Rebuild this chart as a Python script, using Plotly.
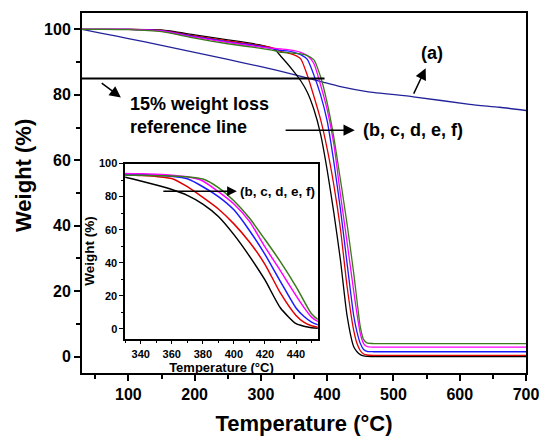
import plotly.graph_objects as go

# Temperature grid (°C) shared by the composite samples b-f
temperature = [30, 60, 100, 150, 200, 250, 300, 320, 330, 340, 350, 360, 370, 380,
               390, 400, 410, 420, 430, 440, 445, 450, 455, 460, 470, 500, 600, 700]

weight_b = [100, 100, 100, 99.8, 98.3, 96.8, 95.2, 94.0, 91.8, 89.5, 87.0, 84.3, 80.8, 75.5,
            68.0, 57.0, 44.0, 29.5, 12.5, 3.0, 1.5, 0.6, 0.2, 0.05, 0, 0, 0, 0]
weight_c = [100, 100, 100, 99.7, 98.0, 96.5, 95.0, 94.2, 93.3, 92.8, 92.2, 91.0, 86.0, 79.5,
            72.5, 63.5, 52.5, 39.0, 21.5, 8.0, 4.0, 1.8, 0.8, 0.5, 0.4, 0.4, 0.4, 0.4]
weight_d = [100, 100, 100, 99.6, 97.8, 96.2, 94.8, 94.0, 93.6, 93.4, 93.0, 92.3, 90.8, 86.0,
            80.0, 72.0, 59.5, 45.0, 28.5, 12.5, 7.5, 4.0, 2.2, 1.6, 1.5, 1.5, 1.5, 1.5]
weight_e = [100, 100, 100, 99.5, 97.6, 96.0, 94.6, 94.2, 94.0, 93.8, 93.5, 93.0, 92.0, 89.5,
            83.0, 75.5, 65.0, 49.5, 35.0, 20.0, 13.0, 7.0, 4.0, 3.1, 2.9, 2.9, 2.9, 2.9]
weight_f = [100, 100, 99.9, 99.3, 97.3, 95.6, 94.2, 93.5, 93.0, 92.9, 92.7, 92.5, 92.0, 90.7,
            85.5, 77.5, 67.0, 54.0, 40.5, 25.5, 17.0, 9.0, 5.2, 4.2, 4.0, 4.0, 4.0, 4.0]

# Neat polymer (a)
temperature_a = [30, 60, 100, 150, 200, 250, 300, 350, 375, 395, 420, 460, 530, 615, 660, 700]
weight_a = [100, 98.8, 97.2, 95.1, 93.0, 90.8, 88.6, 86.2, 84.9, 83.8, 82.5, 81.0, 79.4, 77.1,
            76.2, 75.2]

# 15 % weight-loss reference line
ref_level = 85
ref_end = 396

series = [("b", weight_b, "#000000"), ("c", weight_c, "#e00000"),
          ("d", weight_d, "#1a1aff"), ("e", weight_e, "#ff00ff"),
          ("f", weight_f, "#3a7a1a")]

FONT = "Arial, Liberation Sans, sans-serif"

fig = go.Figure()

fig.add_trace(go.Scatter(x=temperature_a, y=weight_a, mode="lines",
                         line=dict(color="#22229a", width=1.3, shape="spline", smoothing=0.6),
                         showlegend=False))
for name, w, col in series:
    fig.add_trace(go.Scatter(x=temperature, y=w, mode="lines",
                             line=dict(color=col, width=1.3, shape="spline", smoothing=0.6),
                             showlegend=False))
    fig.add_trace(go.Scatter(x=temperature, y=w, mode="lines", xaxis="x2", yaxis="y2",
                             line=dict(color=col, width=1.5, shape="spline", smoothing=0.6),
                             showlegend=False))

fig.add_shape(type="line", xref="x", yref="y", x0=temperature[0], x1=ref_end,
              y0=ref_level, y1=ref_level, line=dict(color="black", width=2))

bold = dict(family=FONT, color="black", weight="bold")
arrow = dict(showarrow=True, arrowhead=2, arrowsize=1.5, arrowwidth=1.5, arrowcolor="black",
             text="")

W, H = 541, 436
ML, MR, MT, MB = 82, 15, 13, 63
pw, ph = W - ML - MR, H - MT - MB

annotations = [
    # reference-line callout
    dict(x=88.7, y=79.2, ax=57.5, ay=83.9, xref="x", yref="y", axref="x", ayref="y", **arrow),
    dict(x=100, y=73.7, xref="x", yref="y", text="15% weight loss<br>reference line",
         showarrow=False, xanchor="left", yanchor="middle", align="left",
         font=dict(size=18, **bold)),
    # samples b-f callout
    dict(x=441.6, y=69.2, ax=335, ay=69.2, xref="x", yref="y", axref="x", ayref="y", **arrow),
    dict(x=451.7, y=69.2, xref="x", yref="y", text="(b, c, d, e, f)", showarrow=False,
         xanchor="left", yanchor="middle", font=dict(size=18, **bold)),
    # sample a callout
    dict(x=548.6, y=88.1, ax=529.5, ay=79.9, xref="x", yref="y", axref="x", ayref="y", **arrow),
    dict(x=558.6, y=92.7, xref="x", yref="y", text="(a)", showarrow=False,
         xanchor="center", yanchor="middle", font=dict(size=18, **bold)),
    # inset callout
    dict(x=401.9, y=83.3, ax=353.6, ay=83.3, xref="x2", yref="y2", axref="x2", ayref="y2",
         showarrow=True, arrowhead=2, arrowsize=1.3, arrowwidth=1.5, arrowcolor="black",
         text=""),
    dict(x=402.9, y=83.3, xref="x2", yref="y2", text="(b, c, d, e, f)", showarrow=False,
         xanchor="left", yanchor="middle", font=dict(size=13.5, **bold)),
    # main y-axis title, placed at pixel centre (24, 176)
    dict(x=(24 - ML) / pw, y=(H - MB - 176) / ph, xref="paper", yref="paper",
         text="Weight (%)", showarrow=False, textangle=-90,
         xanchor="center", yanchor="middle", font=dict(size=22, **bold)),
]

fig.update_layout(
    width=W, height=H,
    margin=dict(l=ML, r=MR, t=MT, b=MB, autoexpand=False),
    paper_bgcolor="white", plot_bgcolor="white",
    annotations=annotations,
    xaxis=dict(range=[30, 700], tickvals=[100, 200, 300, 400, 500, 600, 700],
               ticks="outside", ticklen=6, tickwidth=1.5, tickcolor="black",
               minor=dict(dtick=50, tick0=0, ticks="outside", ticklen=4, tickwidth=1.5,
                          tickcolor="black"),
               showline=True, linecolor="black", linewidth=2, mirror=True,
               showgrid=False, zeroline=False, automargin=False,
               tickfont=dict(size=16, **bold),
               title=dict(text="Temperature (°C)", font=dict(size=22, **bold), standoff=14)),
    yaxis=dict(range=[-5, 105], tickvals=[0, 20, 40, 60, 80, 100],
               ticks="outside", ticklen=6, tickwidth=1.5, tickcolor="black",
               minor=dict(dtick=10, tick0=0, ticks="outside", ticklen=4, tickwidth=1.5,
                          tickcolor="black"),
               showline=True, linecolor="black", linewidth=2, mirror=True,
               showgrid=False, zeroline=False, automargin=False,
               tickfont=dict(size=16, **bold)),
    xaxis2=dict(domain=[0.0973, 0.531], anchor="y2", range=[330, 454],
                tickvals=[340, 360, 380, 400, 420, 440],
                ticks="outside", ticklen=4, tickwidth=1.2, tickcolor="black",
                minor=dict(dtick=10, tick0=0, ticks="outside", ticklen=2.5, tickwidth=1.2,
                           tickcolor="black"),
                showline=True, linecolor="black", linewidth=1.5, mirror=True,
                showgrid=False, zeroline=False, automargin=False,
                tickfont=dict(size=11, **bold),
                title=dict(text="Temperature (°C)", font=dict(size=13, **bold), standoff=2)),
    yaxis2=dict(domain=[0.0956, 0.5816], anchor="x2", range=[-6, 100],
                tickvals=[0, 20, 40, 60, 80, 100],
                ticks="outside", ticklen=4, tickwidth=1.2, tickcolor="black",
                minor=dict(dtick=10, tick0=0, ticks="outside", ticklen=2.5, tickwidth=1.2,
                           tickcolor="black"),
                showline=True, linecolor="black", linewidth=1.5, mirror=True,
                showgrid=False, zeroline=False, automargin=False,
                tickfont=dict(size=11, **bold),
                title=dict(text="Weight (%)", font=dict(size=13.5, **bold), standoff=1)),
)

fig.write_html("out.html")
